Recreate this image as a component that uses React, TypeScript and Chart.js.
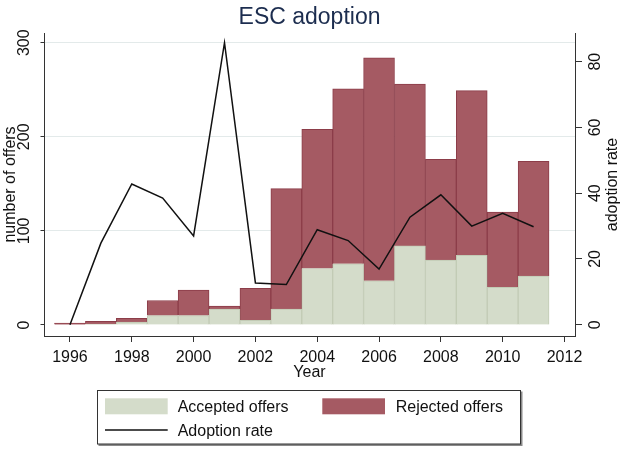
import React, { useEffect, useRef } from 'react';
import { Chart, registerables } from 'chart.js';

Chart.register(...registerables);

// Offers per year and the share of them that were accepted
const years = [1996, 1997, 1998, 1999, 2000, 2001, 2002, 2003, 2004, 2005, 2006, 2007, 2008, 2009, 2010, 2011];
const acceptedOffers = [0, 1, 3, 10, 10, 17, 5, 17, 60, 65, 47, 84, 69, 74, 40, 52];
const rejectedOffers = [2, 3, 4, 16, 27, 3, 34, 128, 148, 186, 237, 172, 107, 175, 80, 122];
const adoptionRate = [0, 24.8, 42.8, 38.5, 27.0, 85.8, 12.7, 12.2, 28.9, 25.6, 16.9, 32.7, 39.5, 30.0, 33.9, 29.8];

// Axis ticks
const yearTicks = [1996, 1998, 2000, 2002, 2004, 2006, 2008, 2010, 2012];
const offerTicks = [0, 100, 200, 300];
const rateTicks = [0, 20, 40, 60, 80];

const FONT = '"Liberation Sans", Arial, Helvetica, sans-serif';
const TEXT_COLOR = '#111111';
const AXIS_COLOR = '#333333';
const ACCEPTED_FILL = '#d4dcca';
const ACCEPTED_EDGE = '#c2cbb5';
const REJECTED_FILL = '#a55a63';
const REJECTED_EDGE = '#8c3d49';

// Draws the title, axis labels and the boxed legend
const decorPlugin = {
  id: 'escDecor',
  afterDraw(chart: any) {
    const { ctx, chartArea, scales } = chart;
    const { left, right, top, bottom } = chartArea;
    const midX = (left + right) / 2;
    const midY = (top + bottom) / 2;

    ctx.save();

    // title
    ctx.fillStyle = '#1c2d4f';
    ctx.font = `23px ${FONT}`;
    ctx.textAlign = 'center';
    ctx.textBaseline = 'alphabetic';
    ctx.fillText('ESC adoption', midX, 24);

    // x axis labels
    ctx.fillStyle = TEXT_COLOR;
    ctx.font = `16px ${FONT}`;
    yearTicks.forEach((v) => {
      ctx.fillText(String(v), scales.x.getPixelForValue(v), bottom + 25.7);
    });
    ctx.fillText('Year', midX, bottom + 40.7);

    const vertical = (s: string, x: number, y: number) => {
      ctx.save();
      ctx.translate(x, y);
      ctx.rotate(-Math.PI / 2);
      ctx.textAlign = 'center';
      ctx.textBaseline = 'alphabetic';
      ctx.fillText(s, 0, 0);
      ctx.restore();
    };

    offerTicks.forEach((v) => vertical(String(v), left - 15.5, scales.y.getPixelForValue(v)));
    vertical('number of offers', left - 29, midY);
    rateTicks.forEach((v) => vertical(String(v), right + 25, scales.y2.getPixelForValue(v)));
    vertical('adoption rate', right + 42, midY);

    // legend
    const lx = 97.5;
    const ly = 390.5;
    const lw = 423;
    const lh = 53.5;
    ctx.fillStyle = '#8a8a8a';
    ctx.fillRect(lx + 1, ly + 1, lw + 1, lh + 1);
    ctx.fillStyle = '#ffffff';
    ctx.fillRect(lx, ly, lw, lh);
    ctx.strokeStyle = AXIS_COLOR;
    ctx.lineWidth = 1;
    ctx.strokeRect(lx, ly, lw, lh);

    const datasets = chart.data.datasets;
    const rate = datasets[0];
    const accepted = datasets[1];
    const rejected = datasets[2];

    const swatch = (x: number, ds: any) => {
      ctx.fillStyle = ds.backgroundColor;
      ctx.fillRect(x, 398.3, 62.7, 16);
    };
    swatch(105, accepted);
    swatch(322.3, rejected);

    ctx.strokeStyle = rate.borderColor;
    ctx.lineWidth = rate.borderWidth;
    ctx.beginPath();
    ctx.moveTo(105, 430);
    ctx.lineTo(167.7, 430);
    ctx.stroke();

    ctx.fillStyle = TEXT_COLOR;
    ctx.font = `16px ${FONT}`;
    ctx.textAlign = 'left';
    ctx.textBaseline = 'alphabetic';
    ctx.fillText(accepted.label, 177.7, 412.3);
    ctx.fillText(rejected.label, 395.7, 412.3);
    ctx.fillText(rate.label, 177.7, 436);

    ctx.restore();
  },
};

export default function App() {
  const canvasRef = useRef<HTMLCanvasElement | null>(null);

  useEffect(() => {
    const canvas = canvasRef.current;
    if (!canvas) return;

    const chart = new Chart(canvas, {
      type: 'bar',
      data: {
        datasets: [
          {
            type: 'line',
            label: 'Adoption rate',
            data: years.map((x, i) => ({ x, y: adoptionRate[i] })),
            xAxisID: 'x',
            yAxisID: 'y2',
            borderColor: '#111111',
            borderWidth: 1.5,
            pointRadius: 0,
            tension: 0,
            fill: false,
            order: 0,
          },
          {
            type: 'bar',
            label: 'Accepted offers',
            data: years.map((x, i) => ({ x, y: acceptedOffers[i] })),
            xAxisID: 'x',
            yAxisID: 'y',
            backgroundColor: ACCEPTED_FILL,
            borderColor: ACCEPTED_EDGE,
            borderWidth: 1,
            barPercentage: 1,
            categoryPercentage: 1,
            order: 1,
          },
          {
            type: 'bar',
            label: 'Rejected offers',
            data: years.map((x, i) => ({ x, y: rejectedOffers[i] })),
            xAxisID: 'x',
            yAxisID: 'y',
            backgroundColor: REJECTED_FILL,
            borderColor: REJECTED_EDGE,
            borderWidth: 1,
            barPercentage: 1,
            categoryPercentage: 1,
            order: 2,
          },
        ] as any,
      },
      options: {
        responsive: false,
        animation: false,
        layout: { padding: { top: 33, left: 0, right: 0, bottom: 0 } },
        plugins: {
          legend: { display: false },
          title: { display: false },
          tooltip: { enabled: false },
        },
        scales: {
          x: {
            type: 'linear',
            position: 'bottom',
            min: 1995.16,
            max: 2012.34,
            offset: false,
            stacked: true,
            afterBuildTicks: (s: any) => {
              s.ticks = yearTicks.map((value) => ({ value }));
            },
            afterFit: (s: any) => {
              s.height = 118;
            },
            ticks: { display: false },
            grid: {
              display: true,
              offset: false,
              drawOnChartArea: false,
              drawTicks: true,
              tickLength: 6,
              tickColor: AXIS_COLOR,
            },
            border: { display: true, color: AXIS_COLOR, width: 1 },
          },
          y: {
            type: 'linear',
            position: 'left',
            stacked: true,
            min: -11.7,
            max: 310.3,
            afterBuildTicks: (s: any) => {
              s.ticks = offerTicks.map((value) => ({ value }));
            },
            afterFit: (s: any) => {
              s.width = 44;
            },
            ticks: { display: false },
            grid: {
              display: true,
              color: (c: any) => (c.tick && c.tick.value === 0 ? 'rgba(0,0,0,0)' : '#e3eaea'),
              lineWidth: 1,
              drawTicks: true,
              tickLength: 3.5,
              tickColor: AXIS_COLOR,
            },
            border: { display: true, color: AXIS_COLOR, width: 1 },
          },
          y2: {
            type: 'linear',
            position: 'right',
            min: -3.44,
            max: 88.73,
            afterBuildTicks: (s: any) => {
              s.ticks = rateTicks.map((value) => ({ value }));
            },
            afterFit: (s: any) => {
              s.width = 67;
            },
            ticks: { display: false },
            grid: {
              display: true,
              drawOnChartArea: false,
              drawTicks: true,
              tickLength: 7,
              tickColor: AXIS_COLOR,
            },
            border: { display: true, color: AXIS_COLOR, width: 1 },
          },
        },
      } as any,
      plugins: [decorPlugin],
    });

    return () => {
      chart.destroy();
    };
  }, []);

  return (
    <div
      style={{
        position: 'fixed',
        left: 0,
        top: 0,
        width: 642,
        height: 454,
        background: '#ffffff',
      }}
    >
      <canvas ref={canvasRef} width={642} height={454} style={{ display: 'block', width: 642, height: 454 }} />
    </div>
  );
}
